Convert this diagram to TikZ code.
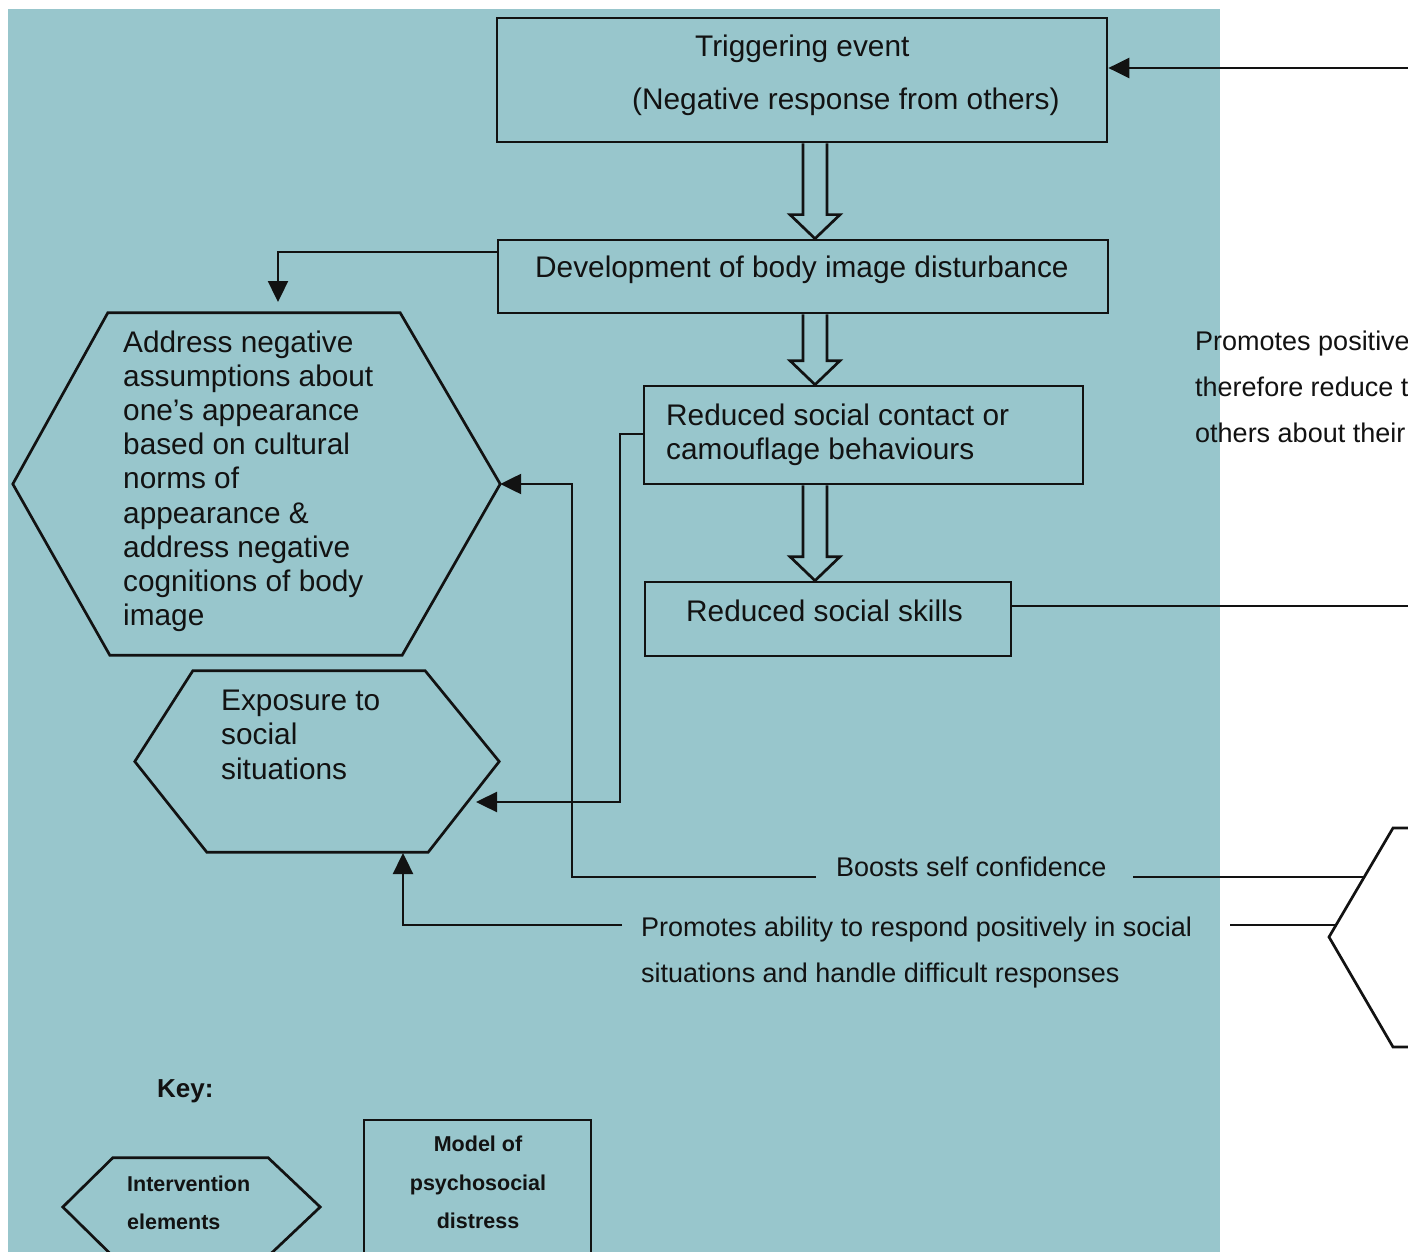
\documentclass[tikz,border=0pt]{standalone}
\usepackage{fontspec}
\setmainfont{Liberation Sans}
\usetikzlibrary{arrows.meta,calc}
\definecolor{bgteal}{RGB}{152,198,204}
\definecolor{ink}{RGB}{18,18,18}
\begin{document}
\begin{tikzpicture}[x=1pt,y=-1pt,
  lw/.style={line width=2.7pt, draw=ink},
  box/.style={lw, rectangle, inner sep=0pt},
  body/.style={rectangle, inner sep=0pt},
  txt/.style={anchor=base west, inner sep=0pt, text=ink, font=\fontsize{29.8}{34}\selectfont},
  lbl/.style={anchor=base west, inner sep=0pt, text=ink, font=\fontsize{27}{32}\selectfont},
  keyt/.style={anchor=base west, inner sep=0pt, text=ink, font=\bfseries\fontsize{21.5}{26}\selectfont},
  conn/.style={line width=2.4pt, draw=ink},
  arr/.style={conn, -{Triangle[length=21pt,width=20pt]}},
  hollow/.style={lw, to path={let \p1=(\tikztostart), \p2=(\tikztotarget) in
    (\x1-12pt,\y1) -- (\x1-12pt,\y2+24pt) -- (\x1-25pt,\y2+24pt) -- (\x1,\y2)
    -- (\x1+25pt,\y2+24pt) -- (\x1+12pt,\y2+24pt) -- (\x1+12pt,\y1)}},
]
\useasboundingbox (0,0) rectangle (1408,1252);
\clip (0,0) rectangle (1408,1252);
\fill[white] (0,0) rectangle (1408,1252);
\fill[bgteal] (8,9) rectangle (1220,1262);

% model boxes
\node[box, minimum width=610pt, minimum height=124pt] (trig) at (802,80) {};
\node[box, minimum width=610pt, minimum height=73pt] (dev) at (803,276.5) {};
\node[box, minimum width=439pt, minimum height=98pt] (rsc) at (863.5,435) {};
\node[box, minimum width=366pt, minimum height=74pt] (skills) at (828,619) {};
\node[box, minimum width=227pt, minimum height=160pt] (keybox) at (477.5,1200) {};

% hexagon bodies
\node[body, minimum width=487pt, minimum height=342pt] (hexA) at (256.5,484) {};
\draw[lw] (hexA.west) -- ([xshift=95pt]hexA.north west) -- ([xshift=-100pt]hexA.north east)
  -- (hexA.east) -- ([xshift=-98pt]hexA.south east) -- ([xshift=97pt]hexA.south west) -- cycle;
\node[body, minimum width=364pt, minimum height=181pt] (hexB) at (317,761.5) {};
\draw[lw] (hexB.west) -- ([xshift=58pt]hexB.north west) -- ([xshift=-74pt]hexB.north east)
  -- (hexB.east) -- ([xshift=-71pt]hexB.south east) -- ([xshift=72pt]hexB.south west) -- cycle;
\node[body, minimum width=257pt, minimum height=98pt] (keyhex) at (191.5,1207) {};
\draw[lw] (keyhex.west) -- ([xshift=50pt]keyhex.north west) -- ([xshift=-52pt]keyhex.north east)
  -- (keyhex.east) -- ([xshift=-52pt]keyhex.south east) -- ([xshift=50pt]keyhex.south west) -- cycle;
% right hexagon (cut off)
\coordinate (rhT) at (1393,828);
\coordinate (rh) at (1329,937);
\coordinate (rhBt) at (1393,1047);
\draw[lw] (1410,828) -- (rhT) -- (rh) -- (rhBt) -- (1410,1047);

% texts
\node[txt] (trigT1) at (695,57) {Triggering event};
\node[txt] (trigT2) at (632,110) {(Negative response from others)};
\node[txt] (devT) at (535,277) {Development of body image disturbance};
\node[txt] (rscT1) at (666,425) {Reduced social contact or};
\node[txt] (rscT2) at (666,459) {camouflage behaviours};
\node[txt] (skT) at (686,621) {Reduced social skills};
\foreach \t [count=\i from 0] in {Address negative,assumptions about,one's appearance,based on cultural,norms of,appearance \&,address negative,cognitions of body,image}
  \node[txt] (hexAT\i) at (123,352+34.2*\i) {\t};
\node[txt] (hexBT1) at (221,710) {Exposure to};
\node[txt] (hexBT2) at (221,744.5) {social};
\node[txt] (hexBT3) at (221,779) {situations};
\node[lbl] (boosts) at (836,876) {Boosts self confidence};
\node[lbl] (prom1) at (641,936) {Promotes ability to respond positively in social};
\node[lbl] (prom2) at (641,982) {situations and handle difficult responses};
\node[lbl] (rt1) at (1195,350) {Promotes positive};
\node[lbl] (rt2) at (1195,396) {therefore reduce t};
\node[lbl] (rt3) at (1195,442) {others about their};
\node[anchor=base west, inner sep=0pt, text=ink, font=\bfseries\fontsize{26}{30}\selectfont] (keyT) at (157,1097) {Key:};
\node[keyt] (kh1) at (127,1191) {Intervention};
\node[keyt] (kh2) at (127,1229) {elements};
\node[keyt, anchor=base] (kb1) at (478,1151) {Model of};
\node[keyt, anchor=base] (kb2) at (478,1190) {psychosocial};
\node[keyt, anchor=base] (kb3) at (478,1228) {distress};

% hollow arrows
\coordinate (ax) at (815,0);
\draw[hollow] (trig.south -| ax) to (dev.north -| ax);
\draw[hollow] (dev.south -| ax) to (rsc.north -| ax);
\draw[hollow] (rsc.south -| ax) to (skills.north -| ax);

% connectors
\coordinate (trigIn) at (1410,68);
\draw[arr] (trigIn) -- (trigIn -| trig.east);
\coordinate (skOut) at (1410,606);
\draw[conn] (skills.east |- skOut) -- (skOut);

\coordinate (devL) at (0,252);
\coordinate (hexAin) at (278,302);
\draw[arr] (dev.west |- devL) -| (hexAin);

\coordinate (rscL) at (0,434);
\coordinate (rscV) at (620,0);
\coordinate (hexBin) at (476,802);
\draw[arr] (rsc.west |- rscL) -- (rscV |- rscL) -- (rscV |- hexBin) -- (hexBin);

\coordinate (bL) at (816,877);
\coordinate (bV) at (572,0);
\draw[arr] (bL) -- (bV |- bL) -- (bV |- hexA.east) -- (hexA.east);
\coordinate (bR) at (1133,877);
\coordinate (rhB) at (1364,877);
\draw[conn] (bR) -- (rhB);

\coordinate (pL) at (622,925);
\coordinate (hexBbot) at (403,853);
\draw[arr] (pL) -| (hexBbot);
\coordinate (pR) at (1230,925);
\coordinate (rhP) at (1335,925);
\draw[conn] (pR) -- (rhP);
\end{tikzpicture}
\end{document}
